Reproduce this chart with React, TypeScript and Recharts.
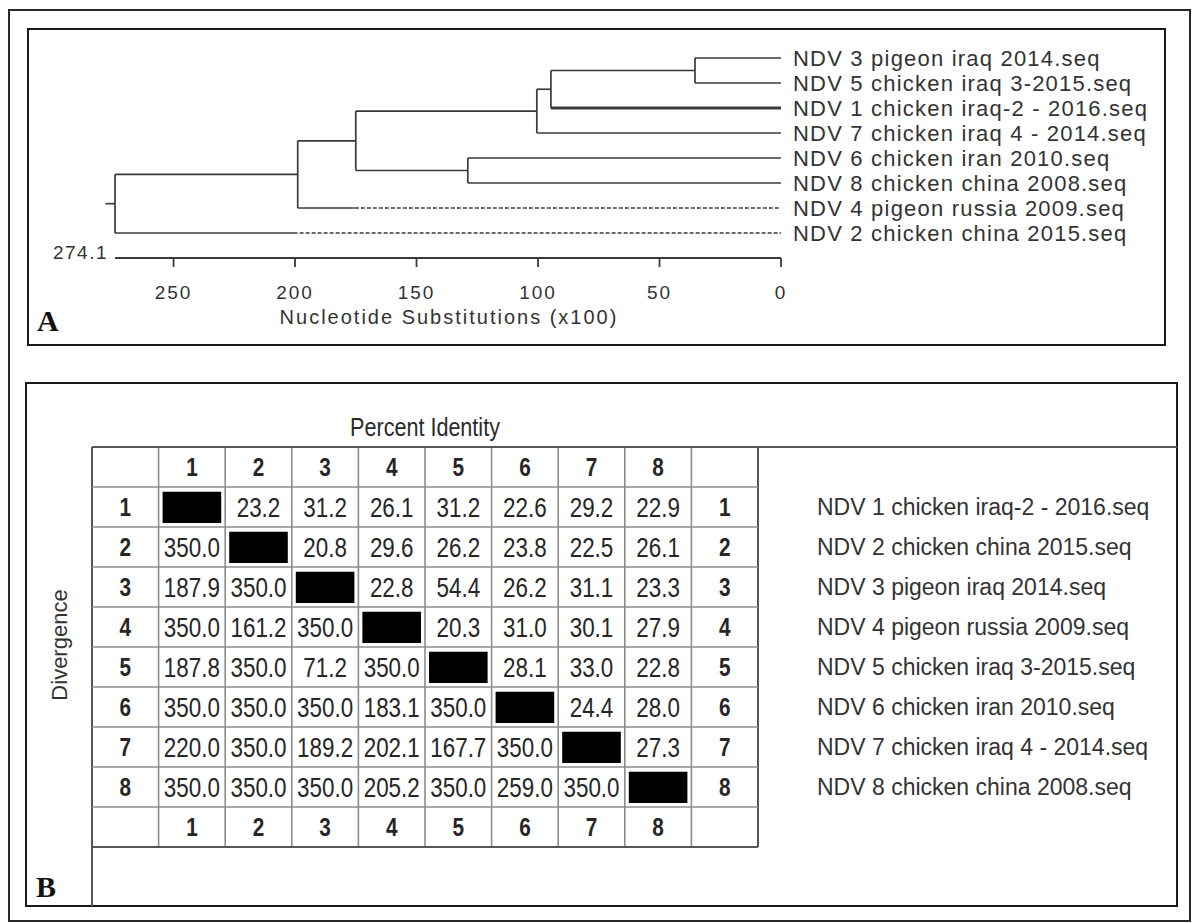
import React from 'react';
import { ComposedChart, ScatterChart, Scatter, XAxis, YAxis, ReferenceLine, ReferenceArea } from 'recharts';

// ---------- Panel A: tree data ----------
const leafIds = ['NDV3', 'NDV5', 'NDV1', 'NDV7', 'NDV6', 'NDV8', 'NDV4', 'NDV2'];
const leafNames = [
  'NDV 3 pigeon iraq 2014.seq',
  'NDV 5 chicken iraq 3-2015.seq',
  'NDV 1 chicken iraq-2 - 2016.seq',
  'NDV 7 chicken iraq 4 - 2014.seq',
  'NDV 6 chicken iran 2010.seq',
  'NDV 8 chicken china 2008.seq',
  'NDV 4 pigeon russia 2009.seq',
  'NDV 2 chicken china 2015.seq',
];
const nodeIds = ['E', 'D', 'C', 'F', 'B', 'A', 'R'];
const nodeHeights = [35.4, 94.7, 100.5, 128.9, 175.0, 198.9, 274.1];
const nodeChildren = [
  ['NDV3', 'NDV5'],
  ['E', 'NDV1'],
  ['D', 'NDV7'],
  ['NDV6', 'NDV8'],
  ['C', 'F'],
  ['B', 'NDV4'],
  ['A', 'NDV2'],
];
const dashedLeaves = ['NDV4', 'NDV2'];
const dashedFrom = [175.4, 200.6];
const thickLeaves = ['NDV1'];
const rootStubTo = 278;
const rootLabel = '274.1';
const treeTicks = [0, 50, 100, 150, 200, 250];
const treeAxisTitle = 'Nucleotide Substitutions (x100)';

// ---------- Panel B: matrix data ----------
const matrixIndex = ['1', '2', '3', '4', '5', '6', '7', '8'];
const row1 = [null, 23.2, 31.2, 26.1, 31.2, 22.6, 29.2, 22.9];
const row2 = [350.0, null, 20.8, 29.6, 26.2, 23.8, 22.5, 26.1];
const row3 = [187.9, 350.0, null, 22.8, 54.4, 26.2, 31.1, 23.3];
const row4 = [350.0, 161.2, 350.0, null, 20.3, 31.0, 30.1, 27.9];
const row5 = [187.8, 350.0, 71.2, 350.0, null, 28.1, 33.0, 22.8];
const row6 = [350.0, 350.0, 350.0, 183.1, 350.0, null, 24.4, 28.0];
const row7 = [220.0, 350.0, 189.2, 202.1, 167.7, 350.0, null, 27.3];
const row8 = [350.0, 350.0, 350.0, 205.2, 350.0, 259.0, 350.0, null];
const matrixRows = [row1, row2, row3, row4, row5, row6, row7, row8];
const seqNames = [
  'NDV 1 chicken iraq-2 - 2016.seq',
  'NDV 2 chicken china 2015.seq',
  'NDV 3 pigeon iraq 2014.seq',
  'NDV 4 pigeon russia 2009.seq',
  'NDV 5 chicken iraq 3-2015.seq',
  'NDV 6 chicken iran 2010.seq',
  'NDV 7 chicken iraq 4 - 2014.seq',
  'NDV 8 chicken china 2008.seq',
];

const SANS = "'Liberation Sans', Arial, sans-serif";
const SERIF = "'Liberation Serif', 'Times New Roman', serif";
const LINE = '#3a3a3a';
const NARROW_SCALE = 0.83;

type Seg = { x1: number; y1: number; x2: number; y2: number; dashed?: boolean; thick?: boolean };

function buildTree() {
  const pos: Record<string, { h: number; y: number }> = {};
  leafIds.forEach((id, i) => (pos[id] = { h: 0, y: i }));
  const segs: Seg[] = [];
  nodeIds.forEach((id, i) => {
    const h = nodeHeights[i];
    const kids = nodeChildren[i].map((k) => ({ id: k, ...pos[k] }));
    const ys = kids.map((k) => k.y);
    const minY = Math.min(...ys);
    const maxY = Math.max(...ys);
    segs.push({ x1: h, y1: minY, x2: h, y2: maxY });
    kids.forEach((k) => {
      const di = dashedLeaves.indexOf(k.id);
      const thick = thickLeaves.includes(k.id);
      if (di >= 0) {
        segs.push({ x1: h, y1: k.y, x2: dashedFrom[di], y2: k.y });
        segs.push({ x1: dashedFrom[di], y1: k.y, x2: k.h, y2: k.y, dashed: true });
      } else {
        segs.push({ x1: h, y1: k.y, x2: k.h, y2: k.y, thick });
      }
    });
    pos[id] = { h, y: (minY + maxY) / 2 };
  });
  const root = pos['R'];
  segs.push({ x1: root.h, y1: root.y, x2: rootStubTo, y2: root.y });
  return segs;
}

function buildCells() {
  const cells: { x: number; y: number; text: string; bold: boolean }[] = [];
  matrixIndex.forEach((lab, i) => {
    cells.push({ x: i + 1.5, y: 0.5, text: lab, bold: true });
    cells.push({ x: i + 1.5, y: 9.5, text: lab, bold: true });
    cells.push({ x: 0.5, y: i + 1.5, text: lab, bold: true });
    cells.push({ x: 9.5, y: i + 1.5, text: lab, bold: true });
  });
  matrixRows.forEach((row, r) => {
    row.forEach((v, c) => {
      if (v !== null) cells.push({ x: c + 1.5, y: r + 1.5, text: (v as number).toFixed(1), bold: false });
    });
  });
  return cells;
}

const CellText = (props: any) => {
  const { cx, cy, payload } = props;
  if (cx == null || cy == null) return null;
  return (
    <text
      transform={`translate(${cx} ${cy}) scale(${NARROW_SCALE} 1)`}
      x={0}
      y={0}
      dy="0.36em"
      textAnchor="middle"
      fontFamily={SANS}
      fontSize={payload.bold ? 25 : 27}
      fontWeight={payload.bold ? 700 : 400}
      fill="#262626"
    >
      {payload.text}
    </text>
  );
};

const leafPoints = leafIds.map((_, i) => ({ x: 0, y: i }));

export default function App() {
  const segs = buildTree();
  const cells = buildCells();
  const gridIdx = Array.from({ length: 11 }, (_, i) => i);
  return (
    <div style={{ position: 'absolute', left: 0, top: 0, width: 1192, height: 923, background: '#fff' }}>
      <svg width={1192} height={923} style={{ position: 'absolute', left: 0, top: 0 }}>
        <rect x={9} y={10} width={1181} height={911} fill="none" stroke="#2a2a2a" strokeWidth={2} />
        <rect x={28} y={29} width={1137} height={316} fill="none" stroke="#1a1a1a" strokeWidth={2} />
        <rect x={26} y={383} width={1151} height={523} fill="none" stroke="#1a1a1a" strokeWidth={2} />
        <text x={108} y={259} textAnchor="end" fontFamily={SANS} fontSize={19} letterSpacing={1.5} fill="#333">
          {rootLabel}
        </text>
        <text x={449} y={324} textAnchor="middle" fontFamily={SANS} fontSize={20} letterSpacing={2} fill="#333">
          {treeAxisTitle}
        </text>
        <text x={37} y={331} fontFamily={SERIF} fontWeight={700} fontSize={30} fill="#111">A</text>
        <text
          transform={`translate(425 436) scale(${NARROW_SCALE} 1)`}
          x={0}
          y={0}
          textAnchor="middle"
          fontFamily={SANS}
          fontSize={26}
          fill="#2a2a2a"
        >
          Percent Identity
        </text>
        <text
          x={59}
          y={645}
          dy="0.35em"
          textAnchor="middle"
          transform="rotate(-90 59 645)"
          fontFamily={SANS}
          fontSize={22}
          fill="#333"
        >
          Divergence
        </text>
        <text x={36} y={897} fontFamily={SERIF} fontWeight={700} fontSize={30} fill="#111">B</text>
        <line x1={758} y1={447} x2={1177} y2={447} stroke="#555" strokeWidth={2} />
        <line x1={92} y1={847} x2={92} y2={906} stroke="#555" strokeWidth={2} />
      </svg>

      <div style={{ position: 'absolute', left: 0, top: 0 }}>
        <ComposedChart width={1192} height={345} margin={{ top: 33, right: 10, bottom: 47, left: 115 }} data={leafPoints}>
          <XAxis
            type="number"
            dataKey="x"
            domain={[0, 274.1]}
            reversed
            ticks={treeTicks}
            interval={0}
            allowDataOverflow
            height={40}
            tickSize={9}
            tickMargin={19}
            axisLine={{ stroke: LINE, strokeWidth: 1.8 }}
            tickLine={{ stroke: LINE, strokeWidth: 1.8 }}
            tick={{ fontFamily: SANS, fontSize: 19, fill: '#333', letterSpacing: 2 }}
          />
          <YAxis
            type="number"
            dataKey="y"
            orientation="right"
            domain={[-1, 8]}
            allowDataOverflow
            reversed
            ticks={[0, 1, 2, 3, 4, 5, 6, 7]}
            interval={0}
            tickFormatter={(v: number) => leafNames[v] ?? ''}
            width={401}
            tickSize={0}
            tickMargin={12}
            axisLine={false}
            tickLine={false}
            tick={{ fontFamily: SANS, fontSize: 22, fill: '#333', letterSpacing: 1.2, textAnchor: 'start' }}
          />
          {segs.map((s, i) => (
            <ReferenceLine
              key={'s' + i}
              segment={[
                { x: s.x1, y: s.y1 },
                { x: s.x2, y: s.y2 },
              ]}
              ifOverflow="visible"
              stroke={LINE}
              strokeWidth={s.thick ? 2.8 : 1.7}
              strokeDasharray={s.dashed ? '4 2' : undefined}
            />
          ))}
        </ComposedChart>
      </div>

      <div style={{ position: 'absolute', left: 0, top: 380 }}>
        <ScatterChart width={1192} height={543} margin={{ top: 67, right: 14, bottom: 76, left: 92 }}>
          <XAxis type="number" dataKey="x" domain={[0, 10]} hide allowDataOverflow />
          <YAxis
            type="number"
            dataKey="y"
            orientation="right"
            domain={[0, 10]}
            reversed
            allowDataOverflow
            ticks={[1.5, 2.5, 3.5, 4.5, 5.5, 6.5, 7.5, 8.5]}
            interval={0}
            tickFormatter={(v: number) => seqNames[Math.round(v - 1.5)] ?? ''}
            width={420}
            tickSize={0}
            tickMargin={59}
            axisLine={false}
            tickLine={false}
            tick={{ fontFamily: SANS, fontSize: 23, fill: '#333', textAnchor: 'start' }}
          />
          {matrixIndex.map((_, i) => (
            <ReferenceArea
              key={'d' + i}
              x1={i + 1.06}
              x2={i + 1.94}
              y1={i + 1.12}
              y2={i + 1.9}
              fill="#000"
              fillOpacity={1}
              stroke="none"
              ifOverflow="visible"
            />
          ))}
          {gridIdx.map((i) => (
            <ReferenceLine
              key={'gx' + i}
              x={i}
              stroke={i === 0 || i === 10 ? '#555' : '#8c8c8c'}
              strokeWidth={i === 0 || i === 10 ? 2 : 1.6}
              ifOverflow="visible"
            />
          ))}
          {gridIdx.map((i) => (
            <ReferenceLine
              key={'gy' + i}
              y={i}
              stroke={i === 0 || i === 10 ? '#555' : '#8c8c8c'}
              strokeWidth={i === 0 || i === 10 ? 2 : 1.6}
              ifOverflow="visible"
            />
          ))}
          <Scatter data={cells} isAnimationActive={false} shape={CellText} />
        </ScatterChart>
      </div>
    </div>
  );
}
